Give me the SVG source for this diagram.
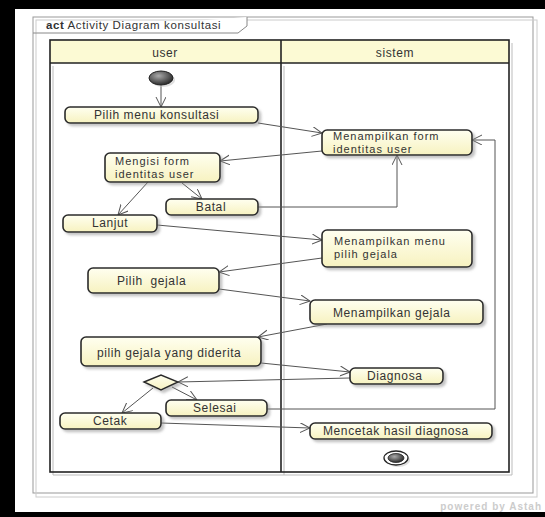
<svg xmlns="http://www.w3.org/2000/svg" width="545" height="517" viewBox="0 0 545 517">
<defs>
<style>
text{font-family:"Liberation Sans",Arial,sans-serif;font-size:12px;fill:#333;letter-spacing:0.6px}
text.ml{font-size:11px;letter-spacing:1px}
.box{fill:url(#nf);stroke:#2a2a2a;stroke-width:1.6;filter:url(#sh)}
.conn{fill:none;stroke:#555;stroke-width:1;marker-end:url(#arr)}
.lane{fill:none;stroke:#222;stroke-width:1.6}
.laneSh{fill:none;stroke:#bbb;stroke-width:1}
.frame{fill:none;stroke:#999;stroke-width:1}
.frame2{fill:none;stroke:#ccc;stroke-width:1}
</style>
<linearGradient id="nf" x1="0" y1="0" x2="0" y2="1">
<stop offset="0" stop-color="#fffff0"/>
<stop offset="1" stop-color="#f7f2c0"/>
</linearGradient>
<radialGradient id="ini" cx="0.4" cy="0.35" r="0.7">
<stop offset="0" stop-color="#aaa"/>
<stop offset="1" stop-color="#222"/>
</radialGradient>
<filter id="sh" x="-10%" y="-20%" width="130%" height="160%">
<feDropShadow dx="2.5" dy="2.5" stdDeviation="1.2" flood-color="#888" flood-opacity="0.5"/>
</filter>
<marker id="arr" markerUnits="userSpaceOnUse" markerWidth="11" markerHeight="11" refX="10" refY="5" orient="auto">
<path d="M0,0 L10,5 L0,10" fill="none" stroke="#555" stroke-width="1"/>
</marker>
</defs>
<rect x="0" y="0" width="545" height="517" fill="#fff"/>
<rect x="0" y="0" width="545" height="9" fill="#000"/>
<rect x="0" y="0" width="15" height="517" fill="#000"/>
<rect x="0" y="512" width="545" height="5" fill="#000"/>
<g id="frame">
<rect class="frame" x="33" y="17" width="500" height="476"/>
<rect class="frame2" x="36" y="20" width="501" height="477"/>
<path d="M33,33 L238,33 L247,26 L247,17" fill="#fff" stroke="#888" stroke-width="1"/>
<text x="46" y="29" style="font-size:11.5px"><tspan font-weight="bold">act</tspan> Activity Diagram konsultasi</text>
</g>
<g id="lanes">
<rect x="50" y="40" width="459" height="23" fill="#fcfad4"/>
<line class="laneSh" x1="53" y1="66" x2="53" y2="475"/>
<line class="laneSh" x1="284" y1="66" x2="284" y2="475"/>
<line class="laneSh" x1="512" y1="43" x2="512" y2="475"/>
<line class="laneSh" x1="53" y1="475" x2="512" y2="475"/>
<rect class="lane" x="50" y="40" width="459" height="432"/>
<line class="lane" x1="50" y1="63" x2="509" y2="63"/>
<line class="lane" x1="281" y1="40" x2="281" y2="472" stroke-width="2.2"/>
<text x="165" y="57" text-anchor="middle">user</text>
<text x="395" y="57" text-anchor="middle">sistem</text>
</g>
<g id="connectors">
<line class="conn" x1="161" y1="85" x2="161" y2="107"/>
<line class="conn" x1="258" y1="123" x2="322" y2="133"/>
<line class="conn" x1="322" y1="151" x2="220" y2="161"/>
<line class="conn" x1="148" y1="182" x2="118" y2="215"/>
<line class="conn" x1="182" y1="183" x2="202" y2="199"/>
<polyline class="conn" points="258,207 397,207 397,155"/>
<line class="conn" x1="157" y1="225" x2="322" y2="240"/>
<line class="conn" x1="322" y1="258" x2="219" y2="272"/>
<line class="conn" x1="219" y1="289" x2="310" y2="301"/>
<line class="conn" x1="327" y1="324" x2="258" y2="337"/>
<line class="conn" x1="261" y1="363" x2="350" y2="372"/>
<line class="conn" x1="350" y1="378" x2="178" y2="382"/>
<line class="conn" x1="153" y1="388" x2="122" y2="413"/>
<line class="conn" x1="172" y1="387" x2="197" y2="400"/>
<polyline class="conn" points="267,409 495,409 495,140 472,140"/>
<line class="conn" x1="161" y1="423" x2="310" y2="428"/>
</g>
<g id="initial">
<ellipse cx="163" cy="80" rx="12" ry="7" fill="#ccc" opacity="0.6"/>
<ellipse cx="161" cy="78" rx="12" ry="7" fill="url(#ini)" stroke="#222" stroke-width="1"/>
</g>
<g id="n_pilihmenu"><rect class="box" x="65" y="107" width="193" height="16" rx="5"/><text x="94" y="119">Pilih menu konsultasi</text></g>
<g id="n_tampilform"><rect class="box" x="322" y="130" width="150" height="25" rx="5"/><text class="ml" x="333" y="140">Menampilkan form</text><text class="ml" x="333" y="152.5">identitas user</text></g>
<g id="n_mengisi"><rect class="box" x="105" y="153" width="115" height="29" rx="5"/><text class="ml" x="115" y="165">Mengisi form</text><text class="ml" x="115" y="177.5">identitas user</text></g>
<g id="n_batal"><rect class="box" x="166" y="199" width="92" height="16" rx="5"/><text x="211" y="211" text-anchor="middle">Batal</text></g>
<g id="n_lanjut"><rect class="box" x="63" y="215" width="94" height="17" rx="5"/><text x="92" y="227">Lanjut</text></g>
<g id="n_tampilmenu"><rect class="box" x="322" y="230" width="150" height="37" rx="5"/><text class="ml" x="334" y="245">Menampilkan menu</text><text class="ml" x="334" y="257.5">pilih gejala</text></g>
<g id="n_pilihgejala"><rect class="box" x="88" y="268" width="131" height="25" rx="5"/><text x="117" y="285" xml:space="preserve">Pilih  gejala</text></g>
<g id="n_tampilgejala"><rect class="box" x="310" y="300" width="173" height="24" rx="5"/><text x="333" y="317">Menampilkan gejala</text></g>
<g id="n_pilihderita"><rect class="box" x="81" y="337" width="180" height="29" rx="5"/><text x="97" y="357">pilih gejala yang diderita</text></g>
<g id="n_diagnosa"><rect class="box" x="350" y="368" width="93" height="16" rx="5"/><text x="367" y="380">Diagnosa</text></g>
<g id="decision"><polygon points="144,382 161,375 178,382 161,390" fill="url(#nf)" stroke="#2a2a2a" stroke-width="1.4" filter="url(#sh)"/></g>
<g id="n_selesai"><rect class="box" x="166" y="400" width="101" height="16" rx="5"/><text x="193" y="412">Selesai</text></g>
<g id="n_cetak"><rect class="box" x="60" y="413" width="101" height="16" rx="5"/><text x="93" y="425">Cetak</text></g>
<g id="n_mencetak"><rect class="box" x="310" y="423" width="182" height="16" rx="5"/><text x="323" y="435">Mencetak hasil diagnosa</text></g>
<g id="final">
<ellipse cx="398" cy="460" rx="12" ry="7" fill="#ccc" opacity="0.6"/>
<ellipse cx="396" cy="458" rx="12" ry="7" fill="#fff" stroke="#222" stroke-width="1.3"/>
<ellipse cx="396" cy="458" rx="8" ry="4.5" fill="url(#ini)" stroke="#222" stroke-width="0.8"/>
</g>
<text x="542" y="510" text-anchor="end" style="font-size:10px;fill:#ccc;letter-spacing:1px;font-weight:bold">powered by Astah</text>
</svg>
